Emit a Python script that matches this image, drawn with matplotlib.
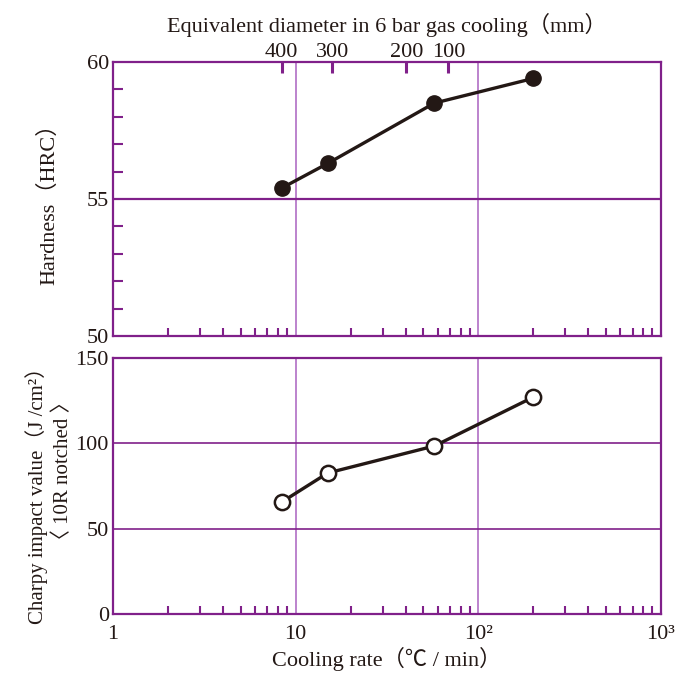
import matplotlib.pyplot as plt
import numpy as np
from matplotlib.ticker import LogLocator, NullFormatter, FixedLocator

### DATA ###
rate = [8.4, 15, 57.5, 200]                 # cooling rate (deg C / min)
hardness = [55.4, 56.3, 58.5, 59.4]         # HRC
charpy = [65.6, 82.6, 98.4, 127]            # J/cm2
dia_labels = ["400", "300", "200", "100"]   # equivalent diameter (mm)
dia_pos = [8.4, 15.9, 40.4, 68.6]           # where they sit on the cooling rate axis
rate_labels = ["1", "10", "10²", "10³"]

### STYLE ###
FRAME = "#80208a"
VLINE = "#b67ac9"
INK = "#231815"
FONT = ["Liberation Serif", "Noto Sans CJK JP", "DejaVu Sans"]
plt.rcParams["font.family"] = FONT
plt.rcParams["font.size"] = 16
plt.rcParams["text.color"] = INK
plt.rcParams["axes.labelcolor"] = INK
plt.rcParams["xtick.color"] = FRAME
plt.rcParams["ytick.color"] = FRAME
plt.rcParams["xtick.labelcolor"] = INK
plt.rcParams["ytick.labelcolor"] = INK

fig = plt.figure(figsize=(6.78, 6.74), dpi=100)
ax1 = fig.add_axes([0.1667, 0.5015, 0.808, 0.4065])
ax2 = fig.add_axes([0.1667, 0.089, 0.808, 0.380])

for ax in (ax1, ax2):
    ax.set_xscale("log")
    ax.set_xlim(1, 1000)
    for s in ax.spines.values():
        s.set_color(FRAME)
        s.set_linewidth(1.6)
    ax.xaxis.set_major_locator(FixedLocator([1, 10, 100, 1000]))
    ax.xaxis.set_minor_locator(LogLocator(base=10, subs=np.arange(2, 10)))
    ax.xaxis.set_minor_formatter(NullFormatter())
    ax.tick_params(axis="x", which="major", length=0, pad=8)
    ax.tick_params(axis="x", which="minor", direction="in", length=6, width=1.5)
    ax.tick_params(axis="y", which="major", length=0, pad=3)
    for v in (10, 100):
        ax.axvline(v, color=VLINE, lw=1.3, zorder=1)

### HARDNESS ###
ax1.set_ylim(50, 60)
ax1.set_yticks([50, 55, 60])
ax1.set_yticks(np.arange(51, 60), minor=True)
ax1.tick_params(axis="y", which="minor", direction="in", length=7, width=1.5)
ax1.axhline(55, color=FRAME, lw=1.6, zorder=1)
ax1.set_xticklabels([])
ax1.plot(rate, hardness, color=INK, lw=2.4, marker="o", ms=11,
         mfc=INK, mec=INK, zorder=3)
ax1.set_ylabel("Hardness（HRC）", labelpad=20)

top = ax1.twiny()
top.set_xscale("log")
top.set_xlim(1, 1000)
top.xaxis.set_major_locator(FixedLocator(dia_pos))
top.set_xticklabels(dia_labels)
top.xaxis.set_minor_locator(FixedLocator([]))
top.tick_params(axis="x", which="major", direction="in", length=8, width=2.2,
                color=FRAME, pad=0)
for s in top.spines.values():
    s.set_visible(False)
top.set_xlabel("Equivalent diameter in 6 bar gas cooling（mm）", labelpad=8)

### CHARPY ###
ax2.set_ylim(0, 150)
ax2.set_yticks([0, 50, 100, 150])
for v in (50, 100):
    ax2.axhline(v, color=FRAME, lw=1.2, zorder=1)
ax2.set_xticklabels(rate_labels)
ax2.plot(rate, charpy, color=INK, lw=2.4, marker="o", ms=11,
         mfc="white", mec=INK, mew=1.8, zorder=3)
ax2.set_xlabel("Cooling rate（℃ / min）", labelpad=2)

fig.text(0.054, 0.272, "Charpy impact value（J /cm²）", rotation=90,
         ha="center", va="center", fontsize=15)
fig.text(0.094, 0.302, "〈 10R notched 〉", rotation=90,
         ha="center", va="center", fontsize=15)

fig.savefig("out.png", dpi=100)
